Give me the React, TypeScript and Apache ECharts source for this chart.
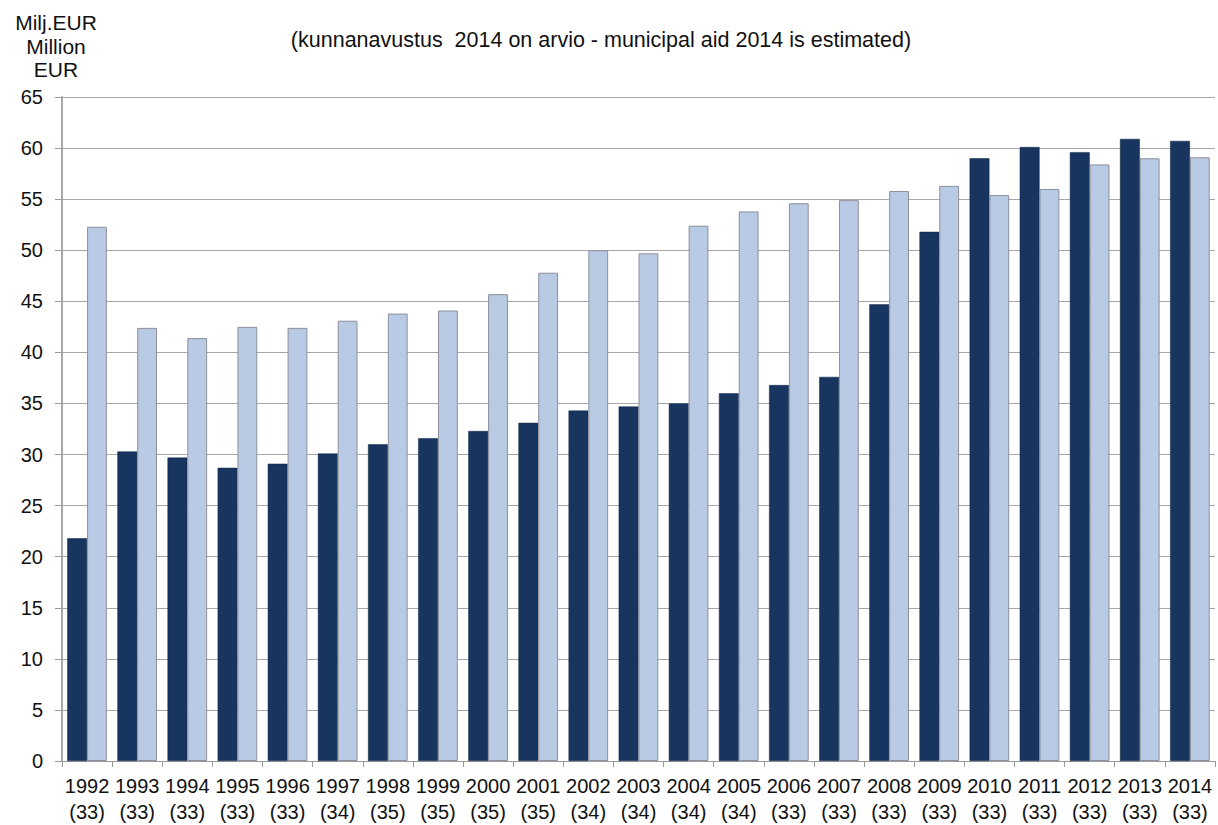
import React, { useEffect, useRef } from "react";
import * as echarts from "echarts";

const years = ["1992","1993","1994","1995","1996","1997","1998","1999","2000","2001","2002","2003","2004","2005","2006","2007","2008","2009","2010","2011","2012","2013","2014"];
const counts = ["33","33","33","33","33","34","35","35","35","35","34","34","34","34","33","33","33","33","33","33","33","33","33"];
const municipalAid = [21.8,30.3,29.7,28.7,29.1,30.1,31.0,31.6,32.3,33.1,34.3,34.7,35.0,36.0,36.8,37.6,44.7,51.8,59.0,60.1,59.6,60.9,60.7];
const otherValues = [52.3,42.4,41.4,42.5,42.4,43.1,43.8,44.1,45.7,47.8,50.0,49.7,52.4,53.8,54.6,54.9,55.8,56.3,55.4,56.0,58.4,59.0,59.1];
const yTicks = { min: 0, max: 65, interval: 5 };
const unitTitle = "Milj.EUR\nMillion\nEUR";
const subtitle = "(kunnanavustus  2014 on arvio - municipal aid 2014 is estimated)";

export default function App() {
  const ref = useRef<HTMLDivElement>(null);
  useEffect(() => {
    if (!ref.current) return;
    const chart = echarts.init(ref.current, null, { renderer: "svg" });
    const font = "'Liberation Sans', Arial, sans-serif";
    chart.setOption({
      animation: false,
      backgroundColor: "#ffffff",
      textStyle: { fontFamily: font },
      title: [
        {
          text: unitTitle,
          left: 51,
          top: 6,
          textAlign: "center",
          textStyle: { fontSize: 21, fontWeight: "normal", color: "#111", lineHeight: 23.5, fontFamily: font, align: "center" },
        },
        {
          text: subtitle,
          left: 596,
          top: 24,
          textAlign: "center",
          textStyle: { fontSize: 21.5, fontWeight: "normal", color: "#111", fontFamily: font },
        },
      ],
      grid: { left: 62, right: 3, top: 97, bottom: 63, containLabel: false },
      xAxis: {
        type: "category",
        data: years.map((y, i) => y + "\n(" + counts[i] + ")"),
        axisLine: { show: true, lineStyle: { color: "#9a9a9a" } },
        axisTick: { show: true, length: 6, lineStyle: { color: "#9a9a9a" } },
        axisLabel: { fontSize: 20, color: "#111", lineHeight: 26, margin: 12, interval: 0, fontFamily: font },
      },
      yAxis: {
        type: "value",
        min: yTicks.min,
        max: yTicks.max,
        interval: yTicks.interval,
        axisLine: { show: true, lineStyle: { color: "#a8a8a8", width: 2 } },
        axisTick: { show: true, length: 7, lineStyle: { color: "#9a9a9a" } },
        axisLabel: { fontSize: 20, color: "#111", margin: 19, fontFamily: font },
        splitLine: { show: true, lineStyle: { color: "#a6a6a6", width: 1 } },
      },
      series: [
        {
          type: "bar",
          data: municipalAid,
          barGap: "0%",
          barCategoryGap: "21%",
          itemStyle: { color: "#17355f", borderColor: "#0f2444", borderWidth: 0.5 },
        },
        {
          type: "bar",
          data: otherValues,
          barGap: "0%",
          barCategoryGap: "21%",
          itemStyle: { color: "#b9cae4", borderColor: "#8d8f9c", borderWidth: 1 },
        },
      ],
    });
    return () => chart.dispose();
  }, []);
  return (
    <div
      ref={ref}
      style={{ position: "absolute", left: 0, top: 0, width: 1218, height: 825 }}
    />
  );
}
